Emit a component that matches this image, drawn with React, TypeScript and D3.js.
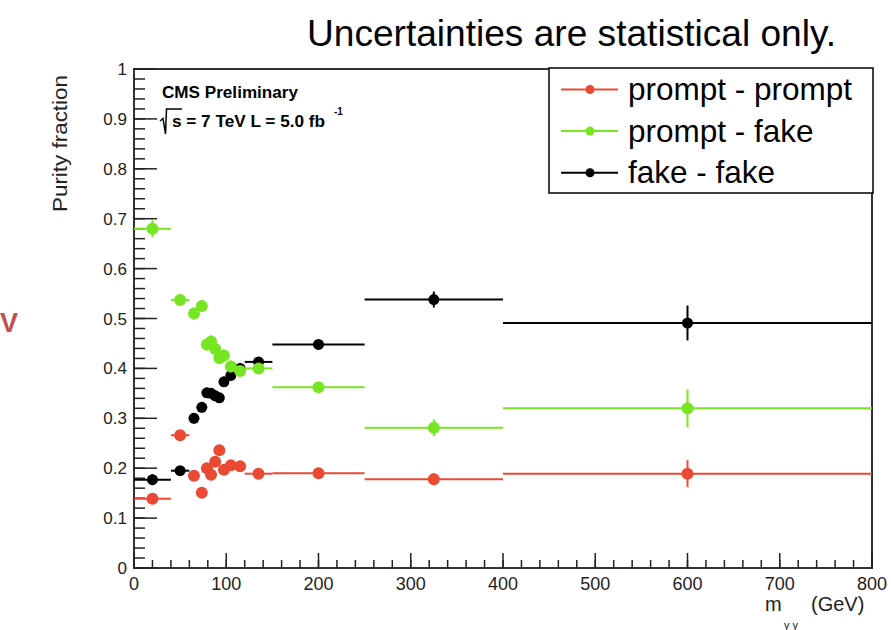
import React from "react";
import * as d3 from "d3";

// bins in m_gammagamma (GeV)
const binEdges = [0, 40, 60, 70, 77, 81, 86, 90, 95, 100, 110, 120, 150, 250, 400, 800];

const promptPrompt = [0.139, 0.266, 0.185, 0.151, 0.2, 0.187, 0.213, 0.236, 0.197, 0.206, 0.204, 0.189, 0.19, 0.178, 0.189];
const promptPromptErr = [0.01, 0.01, 0.01, 0.01, 0.01, 0.01, 0.01, 0.01, 0.01, 0.01, 0.01, 0.008, 0.007, 0.012, 0.027];

const promptFake = [0.68, 0.537, 0.51, 0.525, 0.448, 0.454, 0.439, 0.421, 0.426, 0.404, 0.395, 0.4, 0.362, 0.281, 0.32];
const promptFakeErr = [0.017, 0.011, 0.012, 0.012, 0.012, 0.012, 0.012, 0.012, 0.012, 0.012, 0.01, 0.009, 0.008, 0.017, 0.038];

const fakeFake = [0.177, 0.195, 0.3, 0.322, 0.351, 0.35, 0.345, 0.341, 0.373, 0.386, 0.4, 0.413, 0.448, 0.538, 0.491];
const fakeFakeErr = [0.011, 0.009, 0.01, 0.01, 0.01, 0.01, 0.01, 0.01, 0.01, 0.01, 0.01, 0.009, 0.008, 0.016, 0.035];

const xTicks = [0, 100, 200, 300, 400, 500, 600, 700, 800];
const yTicks = [0, 0.1, 0.2, 0.3, 0.4, 0.5, 0.6, 0.7, 0.8, 0.9, 1];
const yTickLabels = ["0", "0.1", "0.2", "0.3", "0.4", "0.5", "0.6", "0.7", "0.8", "0.9", "1"];

const seriesNames = ["prompt - prompt", "prompt - fake", "fake - fake"];
const seriesColors = ["#ea4a33", "#77e622", "#000000"];

const FONT = "'Liberation Sans', Arial, Helvetica, sans-serif";

const App = () => {
  const width = 891;
  const height = 630;

  const x = d3.scaleLinear().domain([0, 800]).range([134, 872]);
  const y = d3.scaleLinear().domain([0, 1]).range([568, 69]);

  const series = [
    { vals: promptPrompt, errs: promptPromptErr },
    { vals: promptFake, errs: promptFakeErr },
    { vals: fakeFake, errs: fakeFakeErr },
  ];
  // black first so the green sits on top of it, as in the original
  const drawOrder = [2, 0, 1];

  const xMinor = d3.range(0, 801, 20);
  const yMinor = d3.range(0, 1.0001, 0.02);

  const drawSeries = (idx) => {
    const s = series[idx];
    const color = seriesColors[idx];
    return (
      <g key={idx}>
        {s.vals.map((v, i) => {
          const lo = binEdges[i];
          const hi = binEdges[i + 1];
          const cx = x((lo + hi) / 2);
          const cy = y(v);
          return (
            <g key={i}>
              <line x1={x(lo)} x2={x(hi)} y1={cy} y2={cy} stroke={color} strokeWidth={2} />
              <line x1={cx} x2={cx} y1={y(v - s.errs[i])} y2={y(v + s.errs[i])} stroke={color} strokeWidth={2} />
              <circle cx={cx} cy={cy} r={idx === 2 ? 5.5 : 6} fill={color} />
            </g>
          );
        })}
      </g>
    );
  };

  return (
    <svg
      width={width}
      height={height}
      style={{ position: "absolute", left: 0, top: 0, background: "#fff" }}
      fontFamily={FONT}
    >
      <rect width={width} height={height} fill="#fff" />

      {/* slide text */}
      <text x={307} y={46} fontSize={36} textLength={529} lengthAdjust="spacingAndGlyphs" fill="#000">
        Uncertainties are statistical only.
      </text>
      <text x={0} y={332} fontSize={27} fontWeight="bold" fill="#c0504d">V</text>

      {/* frame */}
      <rect x={x(0)} y={y(1)} width={x(800) - x(0)} height={y(0) - y(1)} fill="none" stroke="#333" strokeWidth={2} />

      {/* y ticks */}
      {yMinor.map((t, i) => (
        <line key={"ym" + i} x1={x(0)} x2={x(0) + 11} y1={y(t)} y2={y(t)} stroke="#222" strokeWidth={1.5} />
      ))}
      {yTicks.map((t, i) => (
        <g key={"y" + i}>
          <line x1={x(0)} x2={x(0) + 23} y1={y(t)} y2={y(t)} stroke="#222" strokeWidth={1.5} />
          <text x={127} y={y(t) + 6} textAnchor="end" fontSize={17} fill="#222">
            {yTickLabels[i]}
          </text>
        </g>
      ))}

      {/* x ticks */}
      {xMinor.map((t, i) => (
        <line key={"xm" + i} x1={x(t)} x2={x(t)} y1={y(0)} y2={y(0) - 8} stroke="#222" strokeWidth={1.5} />
      ))}
      {xTicks.map((t, i) => (
        <g key={"x" + i}>
          <line x1={x(t)} x2={x(t)} y1={y(0)} y2={y(0) - 15} stroke="#222" strokeWidth={1.5} />
          <text x={x(t)} y={590} textAnchor="middle" fontSize={18} fill="#222">
            {t}
          </text>
        </g>
      ))}

      {/* axis titles */}
      <text
        transform="translate(67,75) rotate(-90)"
        textAnchor="end"
        fontSize={20}
        textLength={137}
        lengthAdjust="spacingAndGlyphs"
        fill="#222"
      >
        Purity fraction
      </text>
      <text x={765} y={611} fontSize={20} fill="#222">m</text>
      <text x={784} y={629} fontSize={11} fill="#222">γ γ</text>
      <text x={811} y={611} fontSize={20} fill="#222">(GeV)</text>

      {/* CMS label */}
      <text x={162} y={98} fontSize={16} fontWeight="bold" textLength={136} lengthAdjust="spacingAndGlyphs" fill="#000">
        CMS Preliminary
      </text>
      <path d="M160,121 L163,118.5 L165.5,134 L166.5,109 L182,109" fill="none" stroke="#000" strokeWidth={1.5} />
      <text x={172} y={127} fontSize={16} fontWeight="bold" textLength={153} lengthAdjust="spacingAndGlyphs" fill="#000">
        s = 7 TeV L = 5.0 fb
      </text>
      <text x={334} y={115} fontSize={10} fontWeight="bold" fill="#000">-1</text>

      {/* data */}
      {drawOrder.map((idx) => drawSeries(idx))}

      {/* legend */}
      <rect x={549} y={68} width={324} height={125} fill="#fff" stroke="#000" strokeWidth={1.5} />
      {seriesNames.map((name, i) => {
        const cy = 89.5 + i * 41.6;
        return (
          <g key={name}>
            <line x1={561} x2={618} y1={cy} y2={cy} stroke={seriesColors[i]} strokeWidth={2} />
            <circle cx={590} cy={cy} r={4.5} fill={seriesColors[i]} />
            <text x={628} y={cy + 10.5} fontSize={31.5} fill="#000">
              {name}
            </text>
          </g>
        );
      })}
    </svg>
  );
};

export default App;
